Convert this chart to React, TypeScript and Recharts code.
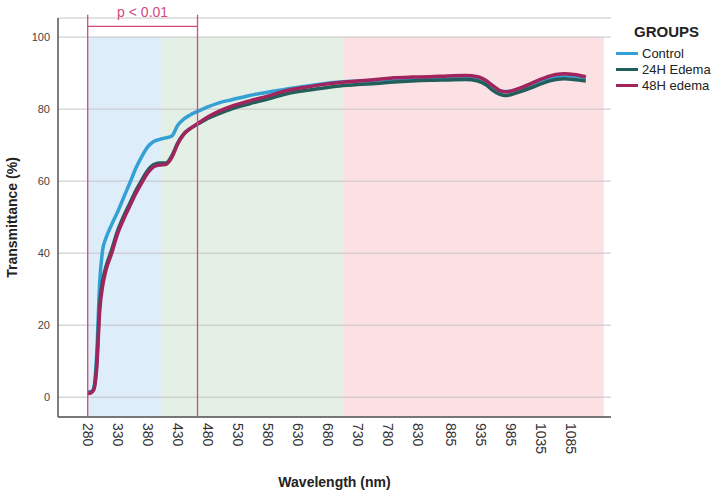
import {
  CartesianGrid,
  Legend,
  Line,
  LineChart,
  ReferenceArea,
  ReferenceLine,
  XAxis,
  YAxis,
} from "recharts";

const wavelengths = [
  280, 285, 290, 295, 300, 305, 310, 320, 330, 340, 350, 360, 370, 380, 390,
  400, 410, 420, 430, 440, 450, 465, 480, 500, 520, 550, 580, 610, 640, 670,
  700, 730, 760, 790, 820, 850, 880, 910, 930, 945, 955, 965, 975, 985, 1000,
  1020, 1040, 1060, 1075, 1090, 1110,
];

const control = [
  1.5, 1.5, 2.5, 12, 32, 41, 44, 48, 51.5, 55.5, 59.4, 63.5, 66.8, 69.5, 71,
  71.6, 72, 72.5, 75.5, 77.2, 78.3, 79.5, 80.6, 81.8, 82.6, 83.8, 84.7, 85.5,
  86.3, 87, 87.5, 87.8, 88, 88.3, 88.5, 88.6, 88.7, 88.8, 88.6, 87.6, 86.3,
  85.2, 84.9, 85, 85.7, 87, 88.2, 89, 89.3, 89.2, 88.6,
];

const edema24 = [
  1, 1.3, 2.2, 9.5, 26, 32.5, 36, 41, 46.3, 50.3, 53.8, 57.3, 60.3, 63, 64.6,
  65, 65, 67, 70.6, 73.1, 74.5, 76, 77.4, 78.8, 80.1, 81.5, 82.8, 84.2, 85.1,
  85.8, 86.4, 86.8, 87.1, 87.5, 87.8, 88, 88.1, 88.2, 87.8, 86.6, 85.2, 84.2,
  83.8, 84, 84.8, 86, 87.3, 88.2, 88.4, 88.2, 87.8,
];

const edema48 = [
  1, 1.2, 2, 8, 24, 31, 35, 40, 45.5, 49.5, 53, 56.5, 59.5, 62.3, 64, 64.5,
  64.6, 66.5, 70.3, 73, 74.5, 76.2, 77.8, 79.5, 80.8, 82.3, 83.6, 85.1, 86,
  86.8, 87.4, 87.8, 88.2, 88.7, 88.9, 89, 89.2, 89.3, 89, 87.8, 86.5, 85.3,
  84.8, 85, 85.8, 87.2, 88.6, 89.6, 89.8, 89.6, 89,
];

const xTicks = [
  280, 330, 380, 430, 480, 530, 580, 630, 680, 730, 780, 830, 885, 935, 985,
  1035, 1085,
];
const yTicks = [0, 20, 40, 60, 80, 100];

// UV / visible / NIR shading, in nm
const bandEdges = [280, 402, 705, 1140];
const bandColors = ["#deedfa", "#e4efe6", "#fbe1e3"];

// significant range bracket, in nm
const sigRange = [280, 463];

const series = [
  { key: "control", name: "Control", color: "#34a0d4" },
  { key: "h24", name: "24H Edema", color: "#235f5a" },
  { key: "h48", name: "48H edema", color: "#a2245c" },
];

const rows = wavelengths.map((nm, i) => ({
  nm,
  control: control[i],
  h24: edema24[i],
  h48: edema48[i],
}));

const FONT = "'Liberation Sans', Arial, Helvetica, sans-serif";
const PINK = "#d24a80";
const Y_DOMAIN: [number, number] = [-5.5, 105.3];

function WaveTick({ x, y, payload }: any) {
  return (
    <text
      x={x}
      y={y}
      transform={`rotate(90 ${x} ${y})`}
      textAnchor="start"
      dominantBaseline="central"
      fontSize={14}
      fontFamily={FONT}
      fill="#333"
    >
      {payload.value}
    </text>
  );
}

function GroupLegend() {
  return (
    <div style={{ fontFamily: FONT, color: "#222", textAlign: "left" }}>
      <div
        style={{
          fontWeight: "bold",
          fontSize: 15,
          lineHeight: "18px",
          paddingLeft: 18,
          marginBottom: 4,
        }}
      >
        GROUPS
      </div>
      {series.map((s) => (
        <div
          key={s.key}
          style={{
            display: "flex",
            alignItems: "center",
            height: 16,
            fontSize: 13,
          }}
        >
          <span
            style={{
              display: "inline-block",
              width: 22,
              height: 3,
              background: s.color,
              marginRight: 4,
            }}
          />
          {s.name}
        </div>
      ))}
    </div>
  );
}

export default function App() {
  return (
    <div
      style={{
        position: "absolute",
        left: 0,
        top: 0,
        width: 715,
        height: 499,
        background: "#fff",
      }}
    >
      <LineChart
        width={715}
        height={499}
        data={rows}
        margin={{ top: 18, right: 104, bottom: 0, left: 0 }}
      >
        {bandColors.map((c, i) => (
          <ReferenceArea
            key={c}
            x1={bandEdges[i]}
            x2={bandEdges[i + 1]}
            y1={Y_DOMAIN[0]}
            y2={100}
            fill={c}
            fillOpacity={1}
            stroke="none"
            ifOverflow="hidden"
            zIndex={-200}
          />
        ))}
        <CartesianGrid
          vertical={false}
          stroke="#c4c4c4"
          strokeWidth={1}
          zIndex={-100}
        />
        <XAxis
          dataKey="nm"
          type="number"
          domain={[230.5, 1152]}
          allowDataOverflow
          ticks={xTicks}
          interval={0}
          tick={<WaveTick />}
          tickLine={false}
          tickSize={4}
          tickMargin={2}
          height={82}
          axisLine={{ stroke: "#555", strokeWidth: 1.5 }}
          label={{
            value: "Wavelength (nm)",
            position: "insideBottom",
            offset: 12,
            style: {
              fontFamily: FONT,
              fontWeight: "bold",
              fontSize: 14,
              fill: "#222",
            },
          }}
        />
        <YAxis
          type="number"
          domain={Y_DOMAIN}
          allowDataOverflow
          ticks={yTicks}
          width={58}
          tickLine={false}
          tick={{ fontSize: 11, fill: "#444", fontFamily: FONT }}
          axisLine={{ stroke: "#555", strokeWidth: 1.5 }}
          label={{
            value: "Transmittance (%)",
            angle: -90,
            position: "insideLeft",
            offset: 12,
            style: {
              textAnchor: "middle",
              fontFamily: FONT,
              fontWeight: "bold",
              fontSize: 14,
              fill: "#222",
            },
          }}
        />
        {series.map((s) => (
          <Line
            key={s.key}
            type="monotone"
            dataKey={s.key}
            name={s.name}
            stroke={s.color}
            strokeWidth={3.5}
            dot={false}
            activeDot={false}
            isAnimationActive={false}
          />
        ))}
        {sigRange.map((nm) => (
          <ReferenceLine
            key={`v${nm}`}
            segment={[
              { x: nm, y: Y_DOMAIN[0] },
              { x: nm, y: 106.2 },
            ]}
            stroke={PINK}
            strokeWidth={1.3}
            ifOverflow="visible"
            zIndex={600}
          />
        ))}
        <ReferenceLine
          segment={[
            { x: sigRange[0], y: 102.95 },
            { x: sigRange[1], y: 102.95 },
          ]}
          stroke={PINK}
          strokeWidth={1.3}
          ifOverflow="visible"
          zIndex={600}
          label={{
            value: "p < 0.01",
            position: "top",
            offset: 9,
            fill: PINK,
            fontSize: 14,
            fontFamily: FONT,
          }}
        />
        <Legend
          layout="vertical"
          align="center"
          verticalAlign="middle"
          content={<GroupLegend />}
          wrapperStyle={{ position: "absolute", left: 616, top: 23, width: 100 }}
        />
      </LineChart>
    </div>
  );
}
